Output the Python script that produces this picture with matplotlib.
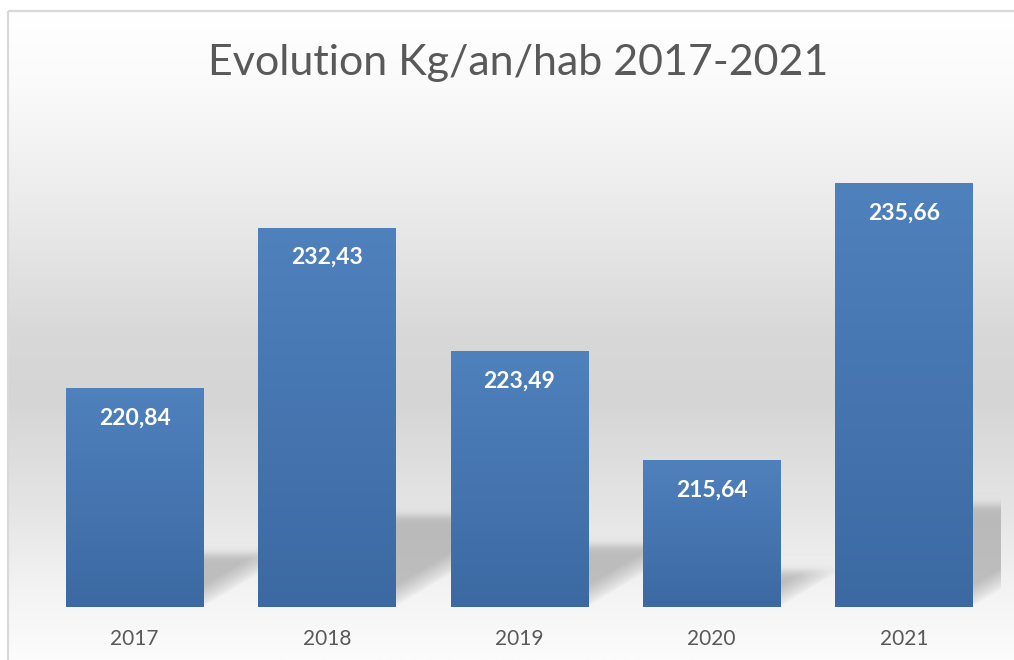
import numpy as np
import matplotlib
matplotlib.use("Agg")
import matplotlib.pyplot as plt
from matplotlib.colors import LinearSegmentedColormap
from matplotlib.patches import Rectangle

# Data
years = ["2017", "2018", "2019", "2020", "2021"]
values = [220.84, 232.43, 223.49, 215.64, 235.66]
title = "Evolution Kg/an/hab 2017-2021"

y_min, y_max = 205, 240
W, H = 1014, 660
text_color = "#595959"
font = "Lato"

fig = plt.figure(figsize=(W / 100, H / 100), dpi=100)

# Background gradient for the chart area
bg = fig.add_axes([0, 0, 1, 1], zorder=-2)
bg.set_xlim(0, W)
bg.set_ylim(H, 0)
bg.axis("off")
bg_cmap = LinearSegmentedColormap.from_list(
    "bg", [(0.0, "#ffffff"), (0.12, "#fafafa"), (0.3, "#ebebeb"), (0.5, "#d8d8d8"),
           (0.6, "#d5d5d5"), (0.78, "#e6e6e6"), (0.9, "#f4f4f4"), (1.0, "#fcfcfc")])
grad = np.linspace(0, 1, 256).reshape(-1, 1)
bg.imshow(grad, cmap=bg_cmap, aspect="auto", extent=[8, W, H, 11], origin="upper")
bg.add_patch(Rectangle((8, 11), W, H, fill=False, edgecolor="#d9d9d9", lw=1.6))

# Plot area
left, right, top, bottom = 38.5, 1000, 123, 607
ax = fig.add_axes([left / W, (H - bottom) / H, (right - left) / W, (bottom - top) / H])
ax.set_xlim(-0.5, len(years) - 0.5)
ax.set_ylim(y_min, y_max)
ax.patch.set_alpha(0)
for s in ax.spines.values():
    s.set_visible(False)
ax.set_yticks([])

px_x = (right - left) / len(years)
px_y = (bottom - top) / (y_max - y_min)
bar_w = 0.713

# Perspective shadows behind the bars
nx, ny = int(right - left), int(bottom - top)
X, Y = np.meshgrid(np.linspace(-0.5, len(years) - 0.5, nx), np.linspace(y_max, y_min, ny))
alpha = np.zeros_like(X)
for i, v in enumerate(values):
    u = (X - (i + bar_w / 2)) * px_x
    w = (Y - y_min) * px_y
    dy = 0.24 * (v - y_min) * px_y
    top_edge = 1 / (1 + np.exp(-(dy - w) / 2.5))
    diag = np.clip((w - 0.6 * u) / 22, 0, 1) ** 0.8
    a = 0.62 * top_edge * diag * (u > -2)
    alpha = 1 - (1 - alpha) * (1 - a)
shadow = np.zeros((ny, nx, 4))
shadow[..., :3] = 0.62
shadow[..., 3] = alpha
ax.imshow(shadow, extent=[-0.5, len(years) - 0.5, y_min, y_max], aspect="auto", zorder=1,
          interpolation="bilinear")

# Bars with vertical gradient
bars = ax.bar(range(len(years)), [v - y_min for v in values], bottom=y_min, width=bar_w,
              color="none", edgecolor="none", zorder=2)
bar_cmap = LinearSegmentedColormap.from_list("bar", ["#3c69a2", "#4f81bd"])
for b in bars:
    x0, y0 = b.get_x(), b.get_y()
    im = ax.imshow(np.linspace(0, 1, 256).reshape(-1, 1), cmap=bar_cmap, origin="lower",
                   aspect="auto", extent=[x0, x0 + b.get_width(), y0, y0 + b.get_height()],
                   zorder=3)
    im.set_clip_path(b)

ax.set_xlim(-0.5, len(years) - 0.5)
ax.set_ylim(y_min, y_max)

# Value labels
for i, v in enumerate(values):
    ax.annotate(f"{v:.2f}".replace(".", ","), (i, v), xytext=(0, -21.6),
                textcoords="offset points", ha="center", va="center", color="white",
                fontsize=16.5, fontweight="bold", family=font, zorder=4)

ax.set_xticks(range(len(years)))
ax.set_xticklabels(years, color=text_color, fontsize=15, family=font)
ax.tick_params(axis="x", length=0, pad=16)

fig.text(518 / W, 1 - 63 / H, title, ha="center", va="center", fontsize=31,
         color=text_color, family=font)

fig.savefig("out.png", dpi=100)
